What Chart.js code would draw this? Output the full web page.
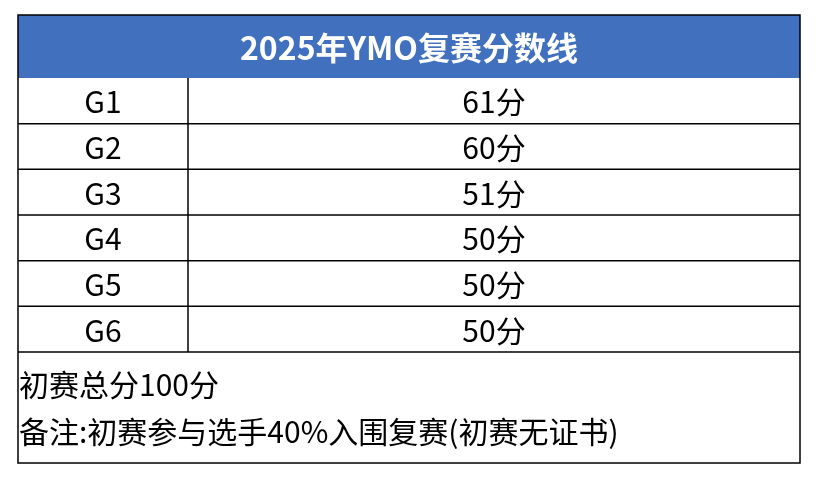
<!DOCTYPE html>
<html>
<head>
<meta charset="utf-8">
<script src="https://cdn.jsdelivr.net/npm/chart.js@4"></script>
<style>
body { margin: 0; background: #fff; }
#wrap { width: 816px; height: 480px; }
</style>
</head>
<body>
<div id="wrap"><canvas id="c"></canvas></div>
<script>
const title = '2025年YMO复赛分数线'
const grades = ['G1', 'G2', 'G3', 'G4', 'G5', 'G6']
const scores = [61, 60, 51, 50, 50, 50]
const unit = '分'
const notes = ['初赛总分100分', '备注:初赛参与选手40%入围复赛(初赛无证书)']

const FONT = '"Noto Sans CJK SC", "Noto Sans", sans-serif'

// draws the table on top of the (invisible) bars, using the y category scale for rows
const tablePlugin = {
    id: 'table',
    afterDraw(chart) {
        const ctx = chart.ctx
        const a = chart.chartArea
        const ys = chart.scales.y
        const half = (ys.getPixelForValue(1) - ys.getPixelForValue(0)) / 2
        const colX = 188
        const headTop = 15
        const bottom = 463
        ctx.save()
        // header
        ctx.fillStyle = '#4170be'
        ctx.fillRect(a.left, headTop, a.right - a.left, a.top - headTop)
        ctx.fillStyle = '#fff'
        ctx.font = 'bold 32px ' + FONT
        ctx.textAlign = 'center'
        ctx.textBaseline = 'middle'
        ctx.fillText(title, (a.left + a.right) / 2, (headTop + a.top) / 2 + 1)
        // rows
        ctx.strokeStyle = '#000'
        ctx.lineWidth = 1.5
        ctx.fillStyle = '#000'
        ctx.font = '30px ' + FONT
        grades.forEach((g, i) => {
            const y = ys.getPixelForValue(i)
            ctx.beginPath()
            ctx.moveTo(a.left, y + half)
            ctx.lineTo(a.right, y + half)
            ctx.stroke()
            ctx.fillText(g, (a.left + colX) / 2, y + 1)
            ctx.fillText(scores[i] + unit, (colX + a.right) / 2, y + 1)
        })
        ctx.beginPath()
        ctx.moveTo(colX, a.top)
        ctx.lineTo(colX, a.bottom)
        ctx.stroke()
        // outer border
        ctx.strokeRect(a.left, headTop, a.right - a.left, bottom - headTop)
        // notes
        ctx.textAlign = 'left'
        notes.forEach((n, i) => {
            ctx.fillText(n, a.left + 1, a.bottom + 33 + i * 47)
        })
        ctx.restore()
    }
}

new Chart(document.getElementById('c'), {
    type: 'bar',
    data: {
        labels: grades,
        datasets: [{ data: scores, backgroundColor: 'rgba(0,0,0,0)' }]
    },
    options: {
        indexAxis: 'y',
        responsive: true,
        maintainAspectRatio: false,
        animation: false,
        layout: { padding: { top: 78, bottom: 128, left: 18, right: 16 } },
        plugins: { legend: { display: false }, tooltip: { enabled: false } },
        scales: {
            x: { display: false, min: 0, max: 100 },
            y: { display: false }
        }
    },
    plugins: [tablePlugin]
})
</script>
</body>
</html>
